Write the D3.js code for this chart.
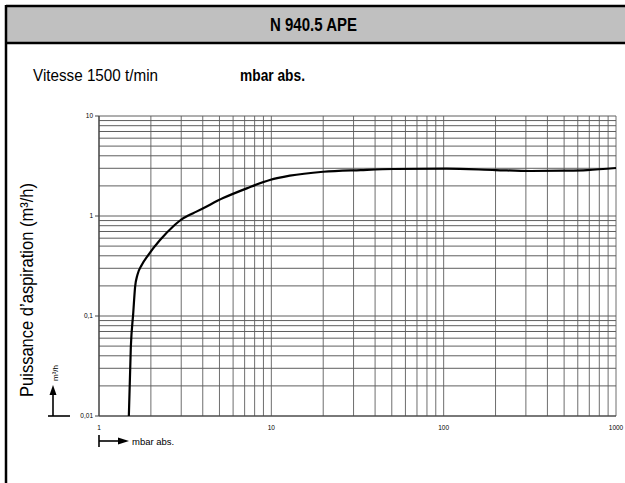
<!DOCTYPE html>
<html>
<head>
<meta charset="UTF-8">
<title>N 940.5 APE</title>
<script src="https://cdnjs.cloudflare.com/ajax/libs/d3/7.8.5/d3.min.js"></script>
<style>
  body { margin: 0; background: #fff; }
  svg text { font-family: "Liberation Sans", Arial, sans-serif; }
</style>
</head>
<body>
<div id="chart"></div>
<script>
// data (pressure in mbar abs., flow in m3/h)
var pressure = [1.49, 1.53, 1.58, 1.62, 1.67, 1.77, 1.93, 2.26, 2.7, 3.0, 3.3, 3.65, 4.0, 5.25, 7.2, 9.8, 12.8, 20, 33, 51, 104, 200, 320, 500, 680, 1000];
var flow     = [0.01, 0.049, 0.107, 0.196, 0.257, 0.324, 0.407, 0.575, 0.79, 0.92, 1.01, 1.1, 1.19, 1.51, 1.89, 2.29, 2.53, 2.77, 2.88, 2.95, 2.97, 2.88, 2.82, 2.84, 2.88, 3.02];

var xTickValues = [1, 10, 100, 1000];
var xTickLabels = ["1", "10", "100", "1000"];
var yTickValues = [0.01, 0.1, 1, 10];
var yTickLabels = ["0,01", "0,1", "1", "10"];

var W = 625, H = 483;

var svg = d3.select("#chart").append("svg")
    .attr("width", W)
    .attr("height", H);

// header band + frame
svg.append("rect")
    .attr("x", 6).attr("y", 6)
    .attr("width", W).attr("height", 37)
    .attr("fill", "#c0c0c0");
svg.append("line").attr("x1", 6).attr("x2", W).attr("y1", 6).attr("y2", 6)
    .attr("stroke", "#000").attr("stroke-width", 2.5);
svg.append("line").attr("x1", 6).attr("x2", W).attr("y1", 43).attr("y2", 43)
    .attr("stroke", "#000").attr("stroke-width", 2.5);
svg.append("line").attr("x1", 6).attr("x2", 6).attr("y1", 5).attr("y2", H)
    .attr("stroke", "#000").attr("stroke-width", 2.5);

// narrow look: squeeze the text to the reference widths
svg.append("text")
    .attr("x", 270).attr("y", 31)
    .attr("font-size", 18.5).attr("font-weight", "bold")
    .attr("textLength", 87).attr("lengthAdjust", "spacingAndGlyphs")
    .text("N 940.5 APE");

svg.append("text")
    .attr("x", 33).attr("y", 81)
    .attr("font-size", 16.5)
    .attr("textLength", 125).attr("lengthAdjust", "spacingAndGlyphs")
    .text("Vitesse 1500 t/min");
svg.append("text")
    .attr("x", 240).attr("y", 81)
    .attr("font-size", 16.5).attr("font-weight", "bold")
    .attr("textLength", 65).attr("lengthAdjust", "spacingAndGlyphs")
    .text("mbar abs.");

// scales
var x = d3.scaleLog().domain([1, 1000]).range([99, 616]);
var y = d3.scaleLog().domain([0.01, 10]).range([416, 116]);

var grid = svg.append("g");
grid.selectAll(".vx")
    .data(x.ticks())
    .enter().append("line")
    .attr("x1", function(d) { return x(d); })
    .attr("x2", function(d) { return x(d); })
    .attr("y1", y(10)).attr("y2", y(0.01))
    .attr("stroke", "#6e6e6e").attr("stroke-width", 1);
grid.selectAll(".hy")
    .data(y.ticks())
    .enter().append("line")
    .attr("x1", x(1)).attr("x2", x(1000))
    .attr("y1", function(d) { return y(d); })
    .attr("y2", function(d) { return y(d); })
    .attr("stroke", "#5e5e5e").attr("stroke-width", 1);

// axis lines
svg.append("line").attr("x1", x(1)).attr("x2", x(1)).attr("y1", y(10)).attr("y2", y(0.01))
    .attr("stroke", "#444").attr("stroke-width", 1.2);
svg.append("line").attr("x1", x(1)).attr("x2", x(1000)).attr("y1", y(0.01)).attr("y2", y(0.01))
    .attr("stroke", "#444").attr("stroke-width", 1.2);

// tick labels
svg.selectAll(".ylab")
    .data(yTickValues)
    .enter().append("text")
    .attr("x", 93)
    .attr("y", function(d) { return y(d) + 2; })
    .attr("text-anchor", "end")
    .attr("font-size", 6.5)
    .text(function(d, i) { return yTickLabels[i]; });
svg.selectAll(".ytick")
    .data(yTickValues)
    .enter().append("line")
    .attr("x1", 95).attr("x2", 99)
    .attr("y1", function(d) { return y(d); })
    .attr("y2", function(d) { return y(d); })
    .attr("stroke", "#444");

svg.selectAll(".xlab")
    .data(xTickValues)
    .enter().append("text")
    .attr("x", function(d) { return x(d); })
    .attr("y", 430)
    .attr("text-anchor", "middle")
    .attr("font-size", 6.5)
    .text(function(d, i) { return xTickLabels[i]; });

// curve
var line = d3.line()
    .x(function(d) { return x(d[0]); })
    .y(function(d) { return y(d[1]); })
    .curve(d3.curveMonotoneX);
svg.append("path")
    .datum(d3.zip(pressure, flow))
    .attr("d", line)
    .attr("fill", "none")
    .attr("stroke", "#000")
    .attr("stroke-width", 2.2);

// y title
svg.append("text")
    .attr("transform", "translate(33,397) rotate(-90)")
    .attr("font-size", 17.5)
    .attr("textLength", 214).attr("lengthAdjust", "spacingAndGlyphs")
    .text("Puissance d\u2019aspiration (m\u00b3/h)");

// small axis arrows
var arrows = svg.append("g").attr("stroke", "#000").attr("stroke-width", 1.6);
arrows.append("line").attr("x1", 48).attr("x2", 70).attr("y1", 416).attr("y2", 416);
arrows.append("line").attr("x1", 53).attr("x2", 53).attr("y1", 416).attr("y2", 394);
svg.append("path").attr("d", "M49.5,395 L53,385 L56.5,395 Z").attr("fill", "#000");
svg.append("text")
    .attr("transform", "translate(58,373) rotate(-90)")
    .attr("text-anchor", "middle")
    .attr("font-size", 8)
    .text("m\u00b3/h");

arrows.append("line").attr("x1", 99).attr("x2", 99).attr("y1", 435).attr("y2", 447);
arrows.append("line").attr("x1", 99).attr("x2", 120).attr("y1", 441).attr("y2", 441);
svg.append("path").attr("d", "M118,437.5 L129,441 L118,444.5 Z").attr("fill", "#000");
svg.append("text")
    .attr("x", 132).attr("y", 444.5)
    .attr("font-size", 9.5)
    .text("mbar abs.");
</script>
</body>
</html>
